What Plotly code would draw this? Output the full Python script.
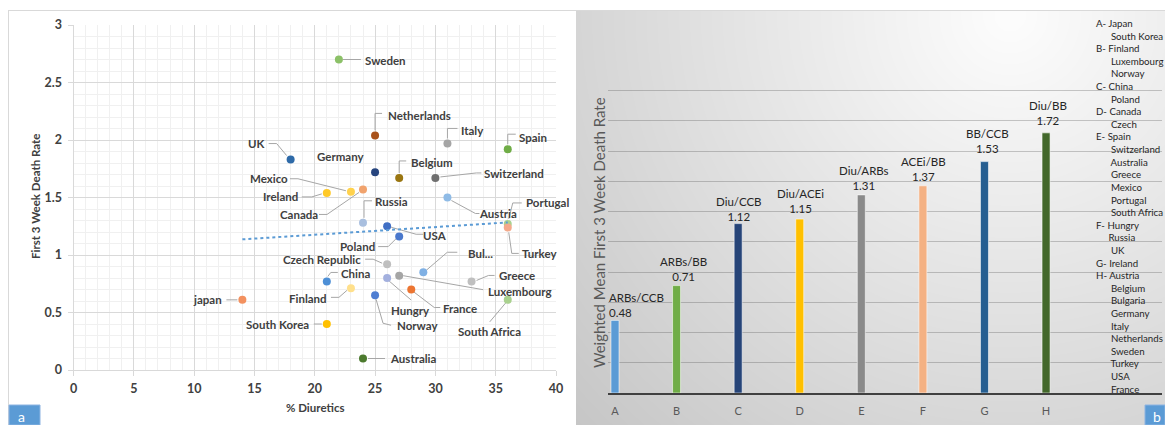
import numpy as np
import plotly.graph_objects as go

W, H = 1165, 425
FONT = "Lato"

# ---------------- panel a: diuretic use vs early death rate ----------------
countries = ["Sweden", "Netherlands", "Italy", "Spain", "UK", "Germany", "Belgium",
             "Switzerland", "Mexico", "Canada", "Ireland", "Austria", "Russia", "USA",
             "Portugal", "Turkey", "Poland", "Czech Republic", "Bul...", "China", "Greece",
             "Hungry", "Luxembourg", "Finland", "France", "Norway", "South Africa",
             "japan", "South Korea", "Australia"]
diuretics_pct = [22, 25, 31, 36, 18, 25, 27, 30, 23, 24, 21, 31, 24, 26, 36, 36, 27, 26,
                 29, 21, 33, 26, 27, 23, 28, 25, 36, 14, 21, 24]
death_rate = [2.70, 2.04, 1.97, 1.92, 1.83, 1.72, 1.67, 1.67, 1.55, 1.57, 1.54, 1.50,
              1.28, 1.25, 1.27, 1.24, 1.16, 0.92, 0.85, 0.77, 0.77, 0.80, 0.82, 0.71,
              0.70, 0.65, 0.61, 0.61, 0.40, 0.10]
point_colors = ["#8cc168", "#a9521a", "#a5a5a5", "#70ad47", "#2e6aa8", "#27457e", "#9a7611",
                "#6f6f6f", "#ffd24d", "#f1a36d", "#ffc928", "#8fbbe6", "#a9bfdf", "#3f6ec4",
                "#a9d18e", "#f4a98a", "#4a78cc", "#bfbfbf", "#7fb0e4", "#4d8fd6", "#bfbfbf",
                "#a3b0de", "#a5a5a5", "#ffe08c", "#ec7532", "#4f7ed2", "#a9d18e",
                "#f3915f", "#ffc000", "#4c7a2e"]

# label placement (text centre, px right / px down from the marker)
label_offsets = [(47, 1), (44, -20), (25, -13), (25, -12), (-34, -16), (-34, -16), (33, -15),
                 (79, -4), (-82, -13), (-64, 25), (-46, 4), (51, 16), (28, -21), (48, 9),
                 (40, -21), (32, 26), (-42, 10), (-65, -5), (57, -19), (29, -8), (45, -6),
                 (23, 32), (121, 16), (-43, 10), (49, 19), (42, 30), (-18, 32),
                 (-35, 0), (-49, 0), (50, 0)]
# leader line vertices (px right / px down from the marker)
leaders = [
    [(4, 0), (22, 0)],
    [(0, -5), (0, -22), (7, -22)],
    [(0, -5), (0, -15), (10, -15)],
    [(0, -5), (0, -15), (8, -15)],
    [(-22, -16), (-14, -16), (-4, -4)],
    None,
    [(0, -5), (0, -17), (7, -17)],
    [(5, -1), (41, -5), (46, -5)],
    [(-61, -13), (-53, -13), (-5, -1)],
    [(-44, 25), (-36, 25), (-4, 3)],
    [(-25, 4), (-15, 4), (-5, 1)],
    [(4, 3), (28, 16), (32, 16)],
    [(1, -5), (1, -22), (9, -22)],
    [(4, 1), (29, 8), (36, 8)],
    [(1, -5), (5, -21), (14, -21)],
    [(1, 5), (4, 26), (11, 26)],
    [(-21, 10), (-11, 10), (-3, 2)],
    [(-22, -5), (-14, -5), (-5, -1)],
    [(3, -2), (24, -20), (34, -20)],
    [(1, -5), (4, -9), (11, -9)],
    [(5, -1), (17, -6), (23, -6)],
    [(2, 3), (24, 22)],
    [(4, 0), (84, 14)],
    [(-20, 9), (-12, 9), (-4, 2)],
    [(2, 2), (23, 18), (29, 18)],
    [(1, 4), (8, 28), (16, 30)],
    [(-2, 3), (-18, 22)],
    [(-16, 0), (-5, 0)],
    [(-13, 0), (-5, 0)],
    [(5, 0), (22, 0)],
]

# ---------------- panel b: weighted mean by drug combination ----------------
groups = ["A", "B", "C", "D", "E", "F", "G", "H"]
combos = ["ARBs/CCB", "ARBs/BB", "Diu/CCB", "Diu/ACEi", "Diu/ARBs", "ACEi/BB", "BB/CCB", "Diu/BB"]
weighted_rate = [0.48, 0.71, 1.12, 1.15, 1.31, 1.37, 1.53, 1.72]
bar_colors = ["#5b9bd5", "#70ad47", "#264478", "#ffc000", "#8a8a8a", "#f4b183", "#255e91", "#43682b"]
# label block placement relative to the bar top: (dx px, value-line centre px down, alignment)
bar_label_pos = [(-8, -8, "left"), (7, -9, "center"), (1, -7, "center"), (1, -11, "center"),
                 (3, -9, "center"), (1, -9, "center"), (3, -13, "center"), (2, -12, "center")]

group_members = [
    "A- Japan", "      South Korea", "B- Finland", "      Luxembourg", "      Norway",
    "C- China", "      Poland", "D- Canada", "      Czech", "E- Spain", "      Switzerland",
    "      Australia", "      Greece", "      Mexico", "      Portugal", "      South Africa",
    "F- Hungry", "     Russia", "      UK", "G- Ireland", "H- Austria", "      Belgium",
    "      Bulgaria", "      Germany", "      Italy", "      Netherlands", "      Sweden",
    "      Turkey", "      USA", "      France",
]


def px(x):
    return x / W


def py(y):
    return 1 - y / H


fig = go.Figure()

# scatter markers
fig.add_trace(go.Scatter(
    x=diuretics_pct, y=death_rate, mode="markers",
    marker=dict(size=8, color=point_colors, line=dict(width=0)),
    xaxis="x", yaxis="y", hoverinfo="skip", showlegend=False,
))

# linear trend line across the observed diuretic range
slope, intercept = np.polyfit(diuretics_pct, death_rate, 1)
tx = np.array([min(diuretics_pct), max(diuretics_pct)])
fig.add_trace(go.Scatter(
    x=tx, y=slope * tx + intercept, mode="lines",
    line=dict(color="#5b9bd5", width=2, dash="dot"),
    xaxis="x", yaxis="y", hoverinfo="skip", showlegend=False,
))

# soft grey gradient behind panel b
gx = np.linspace(576, 1165, 60)
gy = np.linspace(10, 425, 45)
GX, GY = np.meshgrid(gx, gy)
dist = np.hypot(GX - 1010, GY - 15)
shade = np.clip(253 - 0.092 * dist, 0, 255)
fig.add_trace(go.Heatmap(
    x=gx, y=gy, z=shade, zmin=0, zmax=255, zsmooth="best",
    colorscale=[[0, "rgb(0,0,0)"], [1, "rgb(255,255,255)"]],
    showscale=False, hoverinfo="skip", xaxis="x2", yaxis="y2",
))

# combination bars
fig.add_trace(go.Bar(
    x=groups, y=weighted_rate, width=0.13,
    marker=dict(color=bar_colors, line=dict(color="rgba(255,255,255,0.55)", width=1)),
    xaxis="x3", yaxis="y3", hoverinfo="skip", showlegend=False,
))

annotations = []
shapes = []

label_font = dict(family=FONT, size=11.5, color="#404040", weight="bold")
for name, xv, yv, (dx, dy), path in zip(countries, diuretics_pct, death_rate, label_offsets, leaders):
    annotations.append(dict(
        x=xv, y=yv, xref="x", yref="y", text=name, showarrow=False,
        xanchor="center", yanchor="middle",
        xshift=dx, yshift=-dy, font=label_font,
    ))
    if path:
        d = "M " + " L ".join(f"{a},{-b}" for a, b in path)
        shapes.append(dict(
            type="path", xref="x", yref="y", xsizemode="pixel", ysizemode="pixel",
            xanchor=xv, yanchor=yv, path=d, layer="between",
            line=dict(color="#a6a6a6", width=1),
        ))


def paper_text(x, y, text, font, **kw):
    d = dict(x=px(x), y=py(y), xref="paper", yref="paper", text=text, showarrow=False,
             xanchor="center", yanchor="middle", font=font)
    d.update(kw)
    annotations.append(d)


title_font = dict(family=FONT, size=11.5, color="#404040", weight="bold")
paper_text(315, 407, "% Diuretics", title_font)
paper_text(35, 197, "First 3 Week Death Rate", title_font, textangle=-90)

# bar labels: combination name over value
bar_font = dict(family=FONT, size=11.5, color="#262626")
LINE = 15
for g, c, v, (dx, vdy, al) in zip(groups, combos, weighted_rate, bar_label_pos):
    annotations.append(dict(
        x=g, y=v, xref="x3", yref="y3", text=f"{c}<br>{v:.2f}", showarrow=False,
        align=al, xanchor="left" if al == "left" else "center", yanchor="middle",
        xshift=dx, yshift=-(vdy - LINE / 2), font=bar_font,
    ))

paper_text(599, 233, "Weighted Mean First 3 Week Death Rate",
           dict(family=FONT, size=15, color="#595959"), textangle=-90)

# group membership list
paper_text(1094, 15, "<br>".join(s.replace(" ", "&nbsp;") for s in group_members),
           dict(family=FONT, size=9.7, color="#262626"),
           xanchor="left", yanchor="top", align="left")

# panel frame and corner tags
shapes += [
    dict(type="line", xref="paper", yref="paper", x0=px(8), x1=1, y0=py(10.5), y1=py(10.5),
         line=dict(color="#d9d9d9", width=1), layer="above"),
    dict(type="line", xref="paper", yref="paper", x0=px(8.5), x1=px(8.5), y0=py(10), y1=0,
         line=dict(color="#d9d9d9", width=1), layer="above"),
    dict(type="rect", xref="paper", yref="paper", x0=px(9), x1=px(40), y0=py(405), y1=0,
         fillcolor="#5b9bd5", line=dict(color="#8db4e2", width=1), layer="above"),
    dict(type="rect", xref="paper", yref="paper", x0=px(1145), x1=1, y0=py(405), y1=0,
         fillcolor="#5b9bd5", line=dict(color="#8db4e2", width=1), layer="above"),
]
tag_font = dict(family=FONT, size=14, color="white")
paper_text(21, 416, "a", tag_font)
paper_text(1157, 416, "b", tag_font)

tick_font = dict(family=FONT, size=12.5, color="#404040", weight="bold")
fig.update_layout(
    width=W, height=H,
    margin=dict(l=0, r=0, t=0, b=0, pad=0, autoexpand=False),
    paper_bgcolor="white", plot_bgcolor="rgba(0,0,0,0)",
    showlegend=False,
    xaxis=dict(domain=[px(73.5), px(556)], range=[0, 40], dtick=5, tick0=0,
               showgrid=True, gridcolor="#d9d9d9", gridwidth=1,
               minor=dict(dtick=1, showgrid=True, gridcolor="#f0f0f0", gridwidth=1),
               zeroline=False, showline=True, linecolor="#d9d9d9", linewidth=1,
               ticks="outside", ticklen=5, tickcolor="#d9d9d9", tickfont=tick_font,
               ticklabelstandoff=2, automargin=False, fixedrange=True, anchor="y"),
    yaxis=dict(domain=[py(370), py(25)], range=[0, 3], dtick=0.5, tick0=0,
               showgrid=True, gridcolor="#d9d9d9", gridwidth=1,
               minor=dict(dtick=0.1, showgrid=True, gridcolor="#f0f0f0", gridwidth=1),
               zeroline=False, showline=True, linecolor="#d9d9d9", linewidth=1,
               ticks="outside", ticklen=5, tickcolor="#d9d9d9", tickfont=tick_font,
               ticklabelstandoff=3, automargin=False, fixedrange=True, anchor="x"),
    xaxis2=dict(domain=[px(576), 1], range=[576, 1165], visible=False, automargin=False,
                fixedrange=True, anchor="y2"),
    yaxis2=dict(domain=[0, py(10)], range=[425, 10], visible=False, automargin=False,
                fixedrange=True, anchor="x2"),
    xaxis3=dict(domain=[px(608), px(1162)], range=[-0.1136, 8.883], type="category",
                showgrid=False, zeroline=False, showline=True, linecolor="#404040", linewidth=2,
                ticks="", tickfont=dict(family=FONT, size=11, color="#595959"),
                ticklabelstandoff=7, automargin=False, fixedrange=True, anchor="y3"),
    yaxis3=dict(domain=[py(393), py(87.5)], range=[0, 2.02], dtick=0.2, tick0=0,
                showgrid=True, gridcolor="rgba(70,70,70,0.28)", gridwidth=1,
                showticklabels=False, zeroline=False, showline=False, ticks="",
                automargin=False, fixedrange=True, anchor="x3"),
    annotations=annotations,
    shapes=shapes,
)

fig.write_html("out.html")
